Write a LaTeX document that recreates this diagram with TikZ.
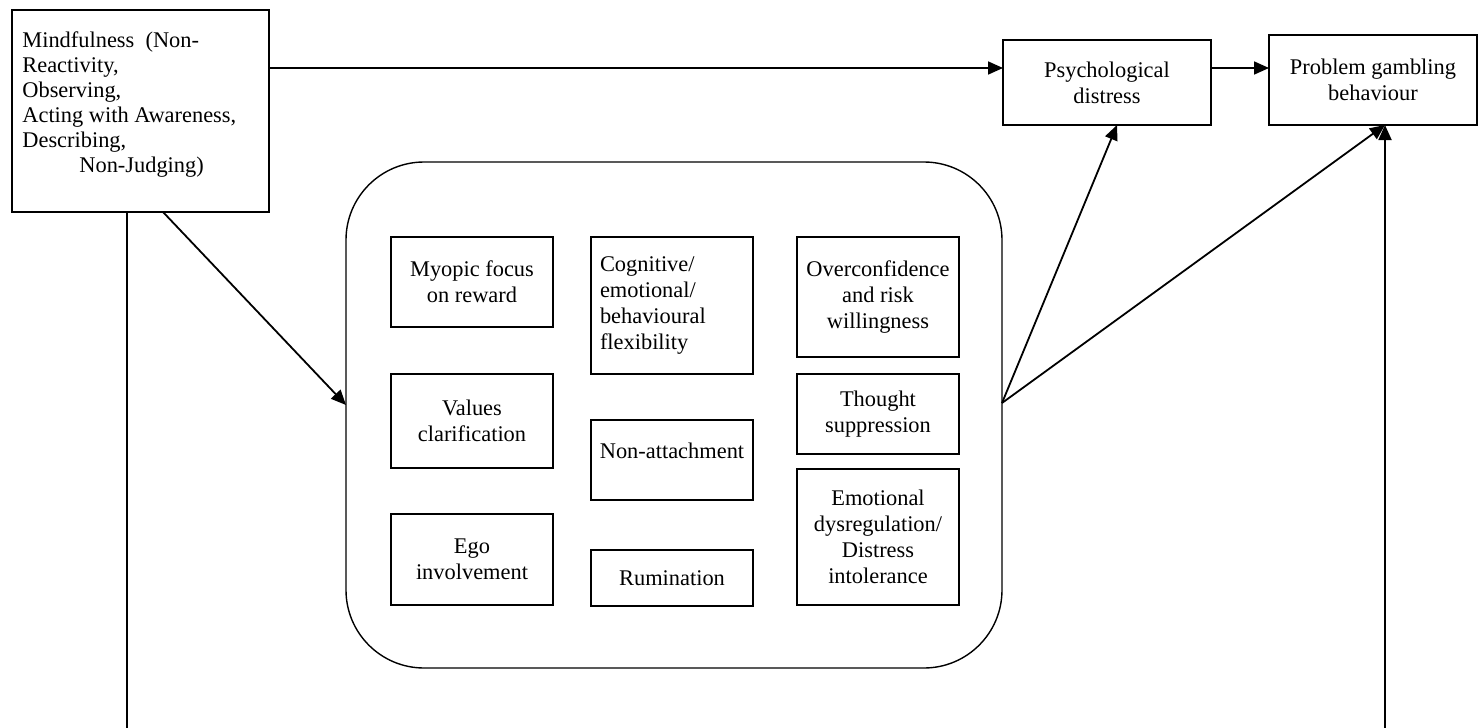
\documentclass[tikz,border=0pt]{standalone}
\usepackage{fontspec}
\setmainfont{Liberation Serif}
\usetikzlibrary{arrows.meta}
\begin{document}
\begin{tikzpicture}[x=0.5pt,y=-0.5pt,
  every node/.style={font=\fontsize{11.2}{13}\selectfont},
  box/.style={draw,line width=0.7pt,rectangle,inner sep=2pt,align=center,minimum width=81pt},
  conn/.style={line width=0.9pt},
  arr/.style={conn,-{Triangle[length=7.5pt,width=6.5pt]}}]
\useasboundingbox (0,0) rectangle (1478,728);
% mindfulness box
\node[draw,line width=0.7pt,minimum width=128.5pt,minimum height=101pt,inner sep=0pt] (mind) at (140.5,111) {};
\node[anchor=north west,inner sep=0pt,align=left,font=\fontsize{11.2}{12.5}\selectfont] (mindtxt) at (22,31.5) {Mindfulness\ \ (Non-\\Reactivity,\\Observing,\\Acting with Awareness,\\Describing,\\\hspace*{28.5pt}Non-Judging)};
% outcome boxes
\node[box,minimum width=104pt,minimum height=42.5pt] (psy) at (1107,82.5) {Psychological\\distress};
\node[box,minimum width=104pt,minimum height=45pt] (pg) at (1373,80) {Problem gambling\\behaviour};
% container
\node[draw,line width=0.7pt,rounded corners=39pt,minimum width=328pt,minimum height=253pt,inner sep=0pt] (cont) at (674,415) {};
% inner boxes
\node[box,minimum height=45pt] (myo) at (472,282) {Myopic focus\\on reward};
\node[box,minimum height=47pt] (val) at (472,421) {Values\\clarification};
\node[box,minimum height=45.5pt] (ego) at (472,559.5) {Ego\\involvement};
\node[draw,line width=0.7pt,rectangle,inner sep=4.5pt,text width=72pt,align=left,minimum height=68.5pt] (cog) at (672,305.5) {Cognitive/\\emotional/\\behavioural\\flexibility};
\node[box,minimum height=40pt] (nat) at (672,460) {};
\node[inner sep=0pt] (nattxt) at (672,451) {Non-attachment};
\node[box,minimum height=28pt] (rum) at (672,578) {Rumination};
\node[box,minimum height=60pt] (ovr) at (878,297) {Overconfidence\\and risk\\willingness};
\node[box,minimum height=40pt] (tho) at (878,414) {Thought\\suppression};
\node[box,minimum height=68pt] (emo) at (878,537) {Emotional\\dysregulation/\\Distress\\intolerance};
% coordinates
\coordinate (m1) at (269,68);
\coordinate (p1) at (1003,68);
\coordinate (p2) at (1211,68);
\coordinate (g1) at (1269,68);
\coordinate (mb) at (163,212);
\coordinate (cl) at (346,405);
\coordinate (cr) at (1002,403);
\coordinate (pb) at (1117,125);
\coordinate (gb) at (1385,125);
\coordinate (l1) at (127,212);
\coordinate (l2) at (127,728);
\coordinate (r2) at (1385,728);
% connectors
\draw[arr] (m1) -- (p1);
\draw[arr] (p2) -- (g1);
\draw[arr] (mb) -- (cl);
\draw[arr] (cr) -- (pb);
\draw[arr] (cr) -- (gb);
\draw[conn] (l1) -- (l2);
\draw[arr] (r2) -- (gb);
\end{tikzpicture}
\end{document}
